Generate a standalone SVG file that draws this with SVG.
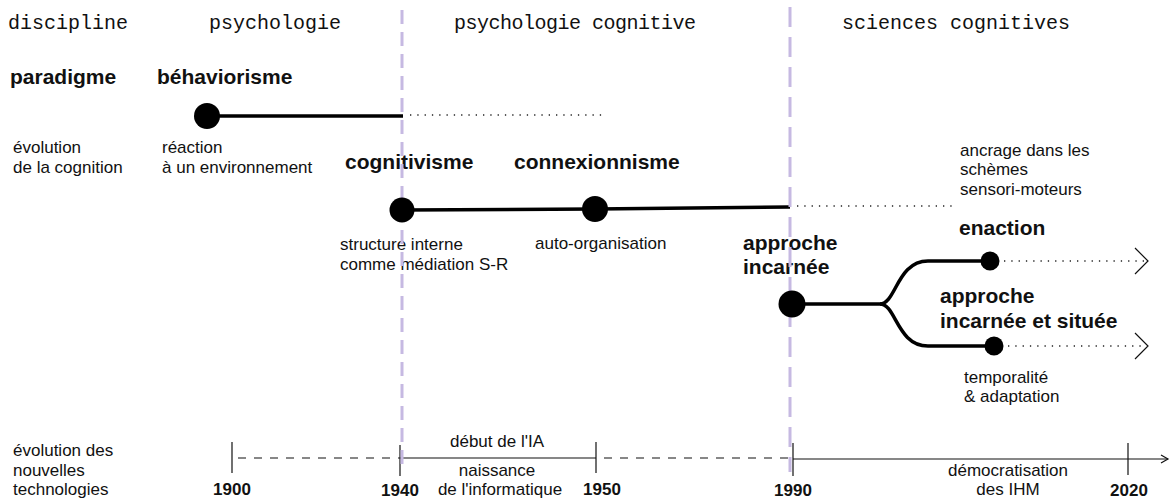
<svg xmlns="http://www.w3.org/2000/svg" width="1171" height="499" viewBox="0 0 1171 499">
  <style>
    .mono { font-family: "Liberation Mono", "DejaVu Sans Mono", monospace; font-size: 20px; fill: #111; }
    .bold { font-family: "Liberation Sans", Arial, sans-serif; font-size: 21px; font-weight: bold; fill: #111; }
    .small { font-family: "Liberation Sans", Arial, sans-serif; font-size: 17px; fill: #111; }
    .year { font-family: "Liberation Sans", Arial, sans-serif; font-size: 17px; font-weight: bold; fill: #111; }
    .mid { text-anchor: middle; }
    .era { stroke: #c6b9e2; stroke-width: 3; fill: none; }
    .thick { stroke: #000; stroke-width: 3.5; fill: none; }
    .dot { stroke: #222; stroke-width: 1.3; stroke-dasharray: 1.3 6; fill: none; }
    .thin { stroke: #111; stroke-width: 1.2; fill: none; }
    .tdash { stroke: #111; stroke-width: 1.2; stroke-dasharray: 8 8; fill: none; }
    .node { fill: #000; }
  </style>
  <defs>
    <marker id="arrowOpen" markerWidth="10" markerHeight="10" refX="8" refY="5" orient="auto" markerUnits="userSpaceOnUse">
      <path d="M1,1 L8,5 L1,9" fill="none" stroke="#111" stroke-width="1.2"/>
    </marker>
  </defs>

  <rect width="1171" height="499" fill="#fff"/>

  <!-- headers -->
  <g id="header">
    <text class="mono" x="8" y="29">discipline</text>
    <text class="mono" x="209" y="29">psychologie</text>
    <text class="mono" x="454" y="29" textLength="242">psychologie cognitive</text>
    <text class="mono" x="842" y="29">sciences cognitives</text>
    <text class="bold" x="10" y="84">paradigme</text>
    <text class="small" x="13" y="153">évolution</text>
    <text class="small" x="13" y="173">de la cognition</text>
    <text class="small" x="13" y="456">évolution des</text>
    <text class="small" x="13" y="476">nouvelles</text>
    <text class="small" x="13" y="495">technologies</text>
  </g>

  <!-- connectors -->
  <g id="connectors">
    <line class="thick" x1="207" y1="116" x2="403" y2="116"/>
    <line class="dot" x1="410" y1="115" x2="602" y2="115"/>
    <path class="thick" d="M402,210 L595,209 L790,207"/>
    <line class="dot" x1="797" y1="206" x2="952" y2="206"/>
    <path class="thick" d="M792,304 H880 C896,304 897,261 928,261 H990"/>
    <path class="thick" d="M880,304 C896,304 897,346 928,346 H994"/>
    <line class="dot" x1="1004" y1="261" x2="1144" y2="261"/>
    <line class="dot" x1="1008" y1="346" x2="1144" y2="346"/>
    <path class="thin" d="M1135,248 L1148,261 L1135,274"/>
    <path class="thin" d="M1135,333 L1148,346 L1135,359"/>
    <!-- technology timeline -->
    <line class="tdash" x1="238" y1="458" x2="400" y2="458"/>
    <line class="thin" x1="400" y1="458" x2="596" y2="458"/>
    <line class="tdash" x1="604" y1="458" x2="793" y2="458"/>
    <line class="thin" x1="793" y1="459" x2="1168" y2="459" marker-end="url(#arrowOpen)"/>
    <line class="thin" x1="232" y1="442" x2="232" y2="473"/>
    <line class="thin" x1="400" y1="445" x2="400" y2="476"/>
    <line class="thin" x1="596" y1="442" x2="596" y2="473"/>
    <line class="thin" x1="793" y1="443" x2="793" y2="476"/>
    <line class="thin" x1="1128" y1="443" x2="1128" y2="475"/>
  </g>

  <g id="behaviorisme">
    <text class="bold" x="157" y="84">béhaviorisme</text>
    <text class="small" x="162" y="153">réaction</text>
    <text class="small" x="162" y="173">à un environnement</text>
  </g>

  <g id="cognitivisme">
    <text class="bold" x="345" y="169">cognitivisme</text>
    <text class="small" x="340" y="250">structure interne</text>
    <text class="small" x="340" y="270">comme médiation S-R</text>
  </g>

  <g id="connexionnisme">
    <text class="bold" x="514" y="169">connexionnisme</text>
    <text class="small" x="535" y="249">auto-organisation</text>
  </g>

  <g id="ancrage">
    <text class="small" x="960" y="156">ancrage dans les</text>
    <text class="small" x="960" y="175">schèmes</text>
    <text class="small" x="960" y="195">sensori-moteurs</text>
  </g>

  <g id="approche-incarnee">
    <text class="bold" x="743" y="250">approche</text>
    <text class="bold" x="743" y="274">incarnée</text>
  </g>

  <g id="enaction">
    <text class="bold" x="959" y="235">enaction</text>
  </g>

  <g id="approche-situee">
    <text class="bold" x="940" y="303">approche</text>
    <text class="bold" x="940" y="328">incarnée et située</text>
    <text class="small" x="964" y="383">temporalité</text>
    <text class="small" x="964" y="402">&amp; adaptation</text>
  </g>

  <g id="tech-labels">
    <text class="small mid" x="497" y="447">début de l'IA</text>
    <text class="small mid" x="497" y="476">naissance</text>
    <text class="small mid" x="500" y="495">de l'informatique</text>
    <text class="small mid" x="1008" y="476">démocratisation</text>
    <text class="small mid" x="1008" y="495">des IHM</text>
    <text class="year mid" x="232" y="495">1900</text>
    <text class="year mid" x="400" y="496">1940</text>
    <text class="year mid" x="602" y="495">1950</text>
    <text class="year mid" x="793" y="496">1990</text>
    <text class="year mid" x="1129" y="496">2020</text>
  </g>

  <!-- era separators -->
  <g id="era-lines">
    <line class="era" x1="402" y1="10" x2="402" y2="472" stroke-dasharray="14 8"/>
    <line class="era" x1="790" y1="7" x2="790" y2="472" stroke-dasharray="20 10"/>
  </g>

  <!-- dots -->
  <g id="dots">
    <circle class="node" cx="207" cy="116" r="13"/>
    <circle class="node" cx="402" cy="210" r="12.5"/>
    <circle class="node" cx="595" cy="209" r="13"/>
    <circle class="node" cx="792" cy="304" r="13.5"/>
    <circle class="node" cx="990" cy="261" r="9.5"/>
    <circle class="node" cx="994" cy="346" r="9.5"/>
  </g>
</svg>
